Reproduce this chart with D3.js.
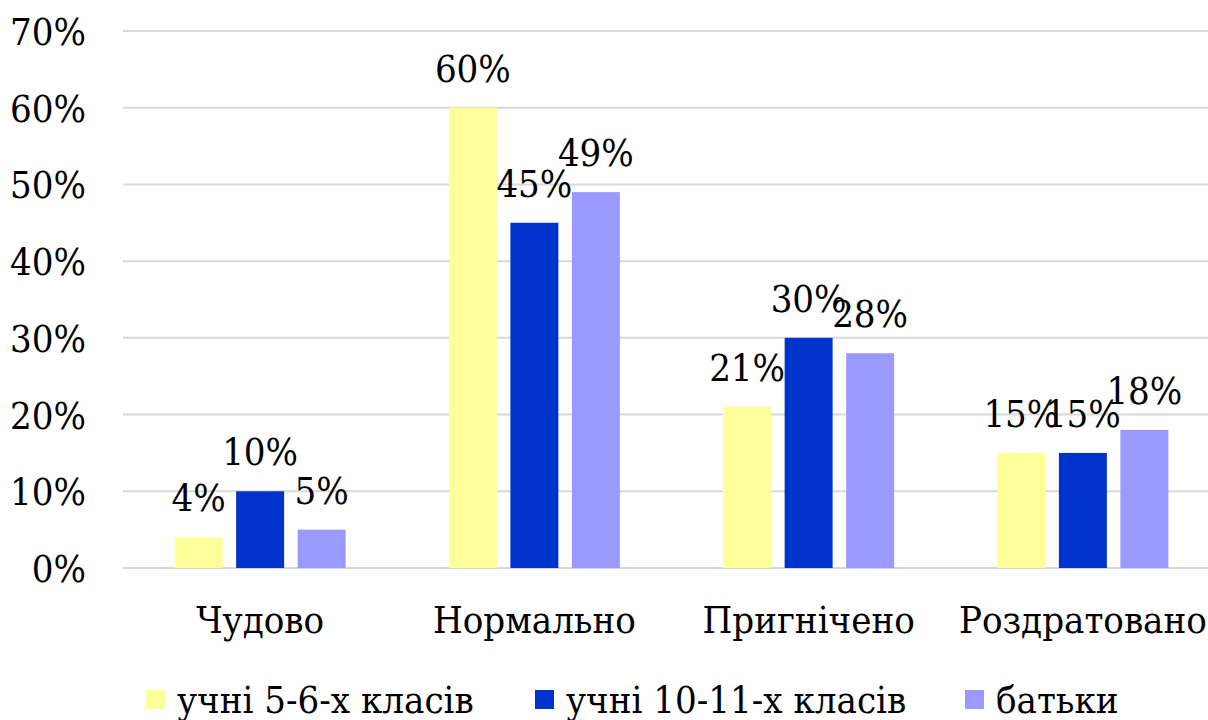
<!DOCTYPE html>
<head>
  <meta charset="utf-8">
  <script src="https://d3js.org/d3.v7.min.js"></script>
  <style>
    body { margin:0; background:#fff; }
    svg { display:block; }
  </style>
</head>
<body>
<script>
  var categories = ["Чудово", "Нормально", "Пригнічено", "Роздратовано"];
  var series = ["учні 5-6-х класів", "учні 10-11-х класів", "батьки"];
  var colors = ["#FFFF99", "#0033CC", "#9999FF"];
  var grade56 = [4, 60, 21, 15];
  var grade1011 = [10, 45, 30, 15];
  var parents = [5, 49, 28, 18];
  var yTicks = [0, 10, 20, 30, 40, 50, 60, 70];

  var values = [grade56, grade1011, parents];
  var width = 1208, height = 720;
  var fontSize = 38;
  var serif = "'DejaVu Serif Condensed', 'DejaVu Serif', serif";

  var svg = d3.select("body").append("svg")
      .attr("width", width)
      .attr("height", height)
      .attr("font-family", serif)
      .attr("font-size", fontSize)
      .style("font-stretch", "condensed");

  // plot runs a bit past the right edge, like the cropped original
  var y = d3.scaleLinear().domain([0, 70]).range([568, 31]);
  var x0 = d3.scaleBand().domain(categories).range([123, 1220])
      .paddingInner(0.3765).paddingOuter(0.3765 / 2);
  var x1 = d3.scaleBand().domain(d3.range(series.length)).range([0, x0.bandwidth()])
      .paddingInner(0.22);

  // gridlines
  svg.append("g").selectAll("line")
      .data(yTicks)
      .enter().append("line")
      .attr("x1", 123).attr("x2", width)
      .attr("y1", function(d) { return y(d); })
      .attr("y2", function(d) { return y(d); })
      .attr("stroke", "#d9d9d9")
      .attr("stroke-width", 2);

  // y tick labels
  svg.append("g").selectAll("text")
      .data(yTicks)
      .enter().append("text")
      .attr("x", 86)
      .attr("y", function(d) { return y(d) + 14; })
      .attr("text-anchor", "end")
      .text(function(d) { return d + "%"; });

  // bars
  var groups = svg.append("g").selectAll("g")
      .data(categories)
      .enter().append("g")
      .attr("transform", function(d) { return "translate(" + x0(d) + ",0)"; });

  function rows(d, i) {
    return values.map(function(v, s) { return { s: s, v: v[i] }; });
  }

  groups.selectAll("rect")
      .data(rows)
      .enter().append("rect")
      .attr("x", function(d) { return x1(d.s); })
      .attr("y", function(d) { return y(d.v); })
      .attr("width", x1.bandwidth())
      .attr("height", function(d) { return y(0) - y(d.v); })
      .attr("fill", function(d) { return colors[d.s]; });

  groups.selectAll("text")
      .data(rows)
      .enter().append("text")
      .attr("x", function(d) { return x1(d.s) + x1.bandwidth() / 2; })
      .attr("y", function(d) { return y(d.v) - 26; })
      .attr("text-anchor", "middle")
      .text(function(d) { return d.v + "%"; });

  // category labels
  svg.append("g").selectAll("text")
      .data(categories)
      .enter().append("text")
      .attr("x", function(d) { return x0(d) + x0.bandwidth() / 2; })
      .attr("y", 633)
      .attr("text-anchor", "middle")
      .text(function(d) { return d; });

  // legend
  var legendX = [146, 535, 965];
  var legend = svg.append("g").selectAll("g")
      .data(series)
      .enter().append("g")
      .attr("transform", function(d, i) { return "translate(" + legendX[i] + ",690)"; });
  legend.append("rect")
      .attr("width", 19).attr("height", 19)
      .attr("fill", function(d, i) { return colors[i]; });
  legend.append("text")
      .attr("x", 31)
      .attr("y", 23)
      .text(function(d) { return d; });
</script>
</body>
